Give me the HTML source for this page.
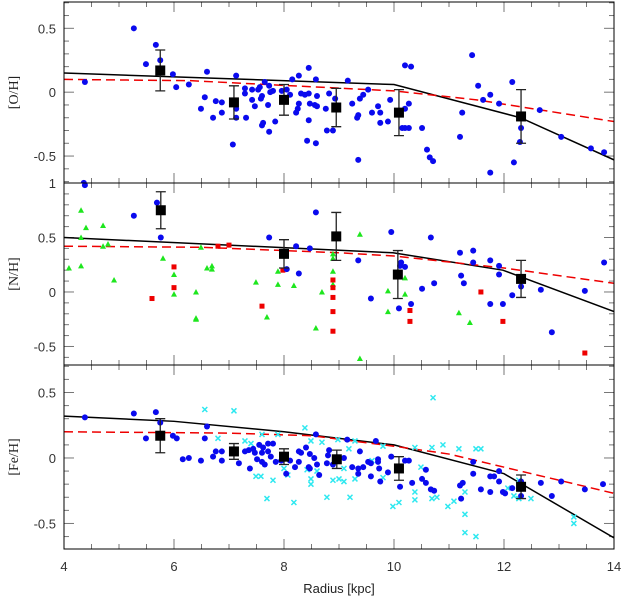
<!DOCTYPE html>
<html><head><meta charset="utf-8"><style>
html,body{margin:0;padding:0;background:#fff;}
svg{display:block;font-family:"Liberation Sans",sans-serif;}
</style></head><body>
<svg id="chart" width="621" height="599" viewBox="0 0 621 599" xmlns="http://www.w3.org/2000/svg"></svg>
<script>
// ---------- DATA ----------
const xTicks = [4,6,8,10,12,14];
const ohBlue = [[5.27,.5],[5.49,.22],[5.67,.37],[5.75,.25],[5.98,.14],[6.04,.04],[6.27,.06],[4.38,.08],[4.36,-.71],[6.6,.16],[7.13,.13],[8.45,.19],[8.27,.13],[8.15,.10],[8.58,.10],[9.16,.09],[10.2,.21],[10.31,.2],[6.56,-.04],[6.49,-.13],[6.71,-.2],[6.76,-.07],[6.87,-.08],[6.87,-.16],[7.29,.03],[7.29,-.01],[7.42,.02],[7.53,.02],[7.56,.04],[7.73,.05],[7.65,.08],[7.8,.01],[7.75,0],[7.6,-.03],[7.58,-.05],[7.42,-.06],[7.47,-.11],[7.71,-.1],[7.31,-.2],[7.13,-.13],[7.13,-.2],[7.62,-.24],[7.6,-.26],[7.73,-.31],[7.84,-.23],[7.07,-.41],[7.96,.01],[8.05,.02],[8.11,-.02],[8.31,-.01],[8.38,-.02],[8.45,-.01],[8.6,-.03],[8.27,-.09],[8.25,-.13],[8.22,-.16],[8.47,-.09],[8.56,-.1],[8.6,-.11],[8.45,-.22],[8.76,-.13],[8.82,-.01],[8.93,-.05],[9.24,-.09],[9.38,-.05],[9.44,-.02],[9.53,.02],[9.35,-.18],[9.33,-.2],[9.6,-.16],[9.71,-.11],[9.75,-.16],[9.75,-.24],[9.89,-.23],[9.93,-.06],[8.78,-.3],[8.89,-.3],[8.42,-.38],[8.58,-.4],[9.35,-.53],[10.27,-.09],[10.2,-.13],[10.15,-.28],[10.27,-.28],[10.2,-.28],[10.51,-.28],[10.6,-.45],[10.65,-.51],[10.71,-.54],[11.2,-.35],[11.24,-.16],[11.42,.29],[11.53,.05],[11.62,-.06],[11.75,-.02],[11.91,-.09],[11.75,-.63],[12.15,.08],[12.18,-.55],[12.29,-.39],[12.31,-.28],[12.65,-.14],[13.04,-.35],[13.58,-.44],[13.82,-.47]];
const ohMeans = [[5.75,.17,.16],[7.09,-.08,.13],[8.0,-.06,.12],[8.95,-.12,.15],[10.09,-.16,.18],[12.31,-.19,.21]];
const ohModel = [[4,.15],[10,.06],[12.3,-.2],[14,-.53]];
const ohModel2 = [[4,.10],[6.3,.09],[10,.01],[11.5,-.06],[14,-.23]];

const nhBlue = [[4.38,.98],[5.69,.82],[5.27,.70],[5.76,.50],[7.73,.50],[8.22,.42],[8.47,.40],[8.58,.73],[8.05,.21],[8.27,.17],[9.95,.55],[9.35,.29],[9.58,-.06],[10.13,.27],[10.11,.24],[10.2,.23],[10.09,-.15],[10.31,-.11],[10.67,.5],[10.51,.03],[10.73,.08],[11.2,.36],[11.44,.38],[11.44,.27],[11.22,.15],[11.27,.08],[11.75,.29],[11.91,.24],[11.91,.16],[11.75,-.11],[11.98,-.11],[12.15,-.03],[12.31,.05],[12.67,.02],[12.87,-.37],[13.47,.01],[13.82,.27]];
const nhGreen = [[4.31,.75],[4.4,.59],[4.71,.61],[4.31,.5],[4.09,.22],[4.31,.24],[4.71,.42],[4.8,.44],[4.91,.11],[5.8,.31],[6.0,.16],[6.0,-.02],[6.4,0],[6.4,-.24],[6.4,-.25],[6.49,.41],[6.6,.22],[6.69,.24],[6.69,.21],[7.49,.09],[7.69,-.23],[7.89,.19],[7.89,.07],[8.18,.06],[8.58,-.33],[8.69,0],[8.89,.35],[8.89,.31],[8.89,.19],[8.89,.07],[9.38,.53],[9.89,.01],[9.89,-.18],[10.2,.13],[10.2,-.02],[9.38,-.61],[11.18,-.19],[11.38,-.28]];
const nhRed = [[6.0,.23],[6.0,.04],[5.6,-.06],[6.8,.42],[7.0,.43],[7.6,-.13],[7.98,.2],[8.89,.11],[8.89,.04],[8.89,-.05],[8.89,-.18],[8.89,-.36],[10.29,-.17],[10.29,-.27],[11.58,0],[11.98,-.27],[13.47,-.56]];
const nhMeans = [[5.76,.75,.17],[8.0,.35,.13],[8.95,.51,.22],[10.07,.16,.22],[12.31,.12,.17]];
const nhModel = [[4,.50],[9.98,.36],[11.98,.2],[14,-.18]];
const nhModel2 = [[4,.42],[6.5,.41],[9,.36],[10,.33],[12,.22],[14,.08]];

const feBlue = [[4.38,.31],[5.27,.34],[5.67,.35],[5.75,.27],[5.49,.15],[5.98,.17],[6.05,.15],[6.16,-.01],[6.27,0],[6.49,-.02],[6.6,.24],[6.56,.15],[6.71,.01],[6.76,.05],[6.87,.05],[6.87,-.02],[7.18,-.04],[7.29,.05],[7.36,.06],[7.44,.07],[7.47,.04],[7.51,-.01],[7.55,.1],[7.62,.08],[7.6,.04],[7.38,-.08],[7.6,-.03],[7.65,-.05],[7.71,.11],[7.8,.11],[7.71,.05],[7.76,.01],[7.85,-.03],[7.95,-.02],[8.04,-.12],[8.11,-.02],[8.2,-.07],[8.27,-.03],[8.27,.05],[8.31,.04],[8.4,.08],[8.47,.03],[8.45,-.07],[8.47,-.08],[8.55,0],[8.58,.18],[8.6,-.05],[8.64,-.13],[8.78,-.04],[8.8,.02],[8.82,.06],[8.89,-.05],[9.09,0],[9.15,.14],[9.24,-.07],[9.35,-.08],[9.35,-.12],[9.44,-.07],[9.38,.05],[9.53,-.03],[9.58,-.04],[9.58,-.14],[9.67,.13],[9.71,-.01],[9.71,-.03],[9.73,-.08],[9.75,-.18],[9.89,-.11],[9.95,.01],[10.11,-.22],[10.2,-.02],[10.27,-.02],[10.33,-.19],[10.51,-.16],[10.58,-.09],[10.58,-.19],[10.67,-.24],[10.73,-.25],[11.44,-.03],[11.44,-.12],[11.2,-.21],[11.25,-.19],[11.22,-.31],[11.58,-.24],[11.75,-.26],[11.75,-.14],[11.82,-.14],[11.91,-.1],[11.91,-.18],[11.98,-.26],[12.02,-.27],[12.15,-.23],[12.31,-.29],[12.31,-.18],[12.67,-.19],[12.87,-.29],[13.04,-.18],[13.47,-.24],[13.8,-.2]];
const feCyan = [[7.09,.36],[6.56,.37],[6.8,.15],[7.29,.13],[7.4,.11],[7.6,.18],[7.89,.18],[8.38,.23],[8.49,.13],[8.69,.12],[8.98,.14],[9.18,.07],[9.29,.13],[9.8,.09],[10.38,.08],[10.69,.08],[10.89,.1],[11.18,.07],[11.49,.07],[11.58,.07],[10.71,.46],[7.49,-.14],[7.58,-.14],[7.8,-.17],[7.69,-.31],[8.0,-.08],[8.07,-.13],[8.18,-.34],[8.42,-.09],[8.49,-.16],[8.49,-.2],[8.6,-.1],[8.78,-.3],[8.89,-.17],[9.0,-.16],[9.09,-.18],[9.09,-.08],[9.2,-.3],[9.29,-.16],[9.6,-.02],[9.8,-.15],[9.98,-.37],[10.09,-.34],[10.38,-.26],[10.38,-.32],[10.49,-.07],[10.69,-.31],[10.78,-.3],[10.98,-.37],[11.09,-.33],[11.29,-.43],[11.29,-.57],[11.49,-.6],[11.29,-.26],[12.07,-.23],[12.18,-.29],[12.27,-.17],[12.27,-.31],[12.49,-.31],[13.27,-.45],[13.27,-.5]];
const feMeans = [[5.75,.17,.13],[7.09,.05,.06],[8.0,.01,.06],[8.96,-.01,.07],[10.09,-.08,.09],[12.31,-.22,.09]];
const feModel = [[4,.32],[6,.28],[8,.2],[10,.10],[12,-.12],[14,-.61]];
const feModel2 = [[4,.2],[7,.19],[8.5,.17],[10,.09],[11,.03],[14,-.27]];

// ---------- LAYOUT ----------
const svg = document.getElementById('chart');
const NS = 'http://www.w3.org/2000/svg';
const X0 = 64, X1 = 614;
const xs = v => X0 + (v - 4) / 10 * (X1 - X0);
function mk(tag, attrs, parent) {
  const e = document.createElementNS(NS, tag);
  for (const k in attrs) e.setAttribute(k, attrs[k]);
  (parent || svg).appendChild(e);
  return e;
}
const panels = [
  {name:'oh', label:'[O/H]', top:2, bot:183, vTop:0.706, vBot:-0.711, ticks:[0.5,0,-0.5], tl:['0.5','0','-0.5'], blue:ohBlue, green:[], red:[], cyan:[], means:ohMeans, m1:ohModel, m2:ohModel2},
  {name:'nh', label:'[N/H]', top:183, bot:365, vTop:1.0, vBot:-0.67, ticks:[1,0.5,0,-0.5], tl:['1','0.5','0','-0.5'], blue:nhBlue, green:nhGreen, red:nhRed, cyan:[], means:nhMeans, m1:nhModel, m2:nhModel2},
  {name:'fe', label:'[Fe/H]', top:365, bot:549, vTop:0.71, vBot:-0.695, ticks:[0.5,0,-0.5], tl:['0.5','0','-0.5'], blue:feBlue, green:[], red:[], cyan:feCyan, means:feMeans, m1:feModel, m2:feModel2}
];

panels.forEach(p => {
  const ys = v => p.top + (p.vTop - v) / (p.vTop - p.vBot) * (p.bot - p.top);
  const g = mk('g', {});
  
  
  const clipId = 'clip-' + p.name;
  const cp = mk('clipPath', {id: clipId}, g);
  mk('rect', {x:X0, y:p.top, width:X1-X0, height:p.bot-p.top}, cp);
  // ticks
  const tg = mk('g', {stroke:'#777', 'stroke-width':1}, g);
  
  
  for (let k = 0; k <= 20; k++) {
    const v = 4 + k * 0.5, x = xs(v);
    const L = (k % 4 === 0) ? 10 : 5;
    mk('line', {x1:x, x2:x, y1:p.bot, y2:p.bot - L}, tg);
    mk('line', {x1:x, x2:x, y1:p.top, y2:p.top + L}, tg);
  }
  for (let v = Math.ceil(p.vBot * 10) / 10; v <= p.vTop + 1e-9; v = Math.round((v + 0.1) * 10) / 10) {
    const y = ys(v);
    const major = Math.abs(v * 2 - Math.round(v * 2)) < 1e-6;
    const L = major ? 10 : 5;
    mk('line', {x1:X0, x2:X0 + L, y1:y, y2:y}, tg);
    mk('line', {x1:X1, x2:X1 - L, y1:y, y2:y}, tg);
  }
  // tick labels
  p.ticks.forEach((v, i) => {
    const t = mk('text', {x:X0 - 8, y:ys(v) + 5, 'text-anchor':'end', 'font-size':13, fill:'#333'}, g);
    
    
    t.textContent = p.tl[i];
  });
  const yl = mk('text', {x:0, y:0, 'text-anchor':'middle', 'font-size':14, fill:'#222', 'font-family':'"Liberation Serif",serif', transform:`translate(18,${(p.top + p.bot) / 2}) rotate(-90)`}, g);
  
  
  yl.textContent = p.label;

  const dg = mk('g', {'clip-path':`url(#${clipId})`}, g);
  // model lines
  const line = (pts, attrs, nm) => {
    const e = mk('polyline', Object.assign({points: pts.map(q => xs(q[0]) + ',' + ys(q[1])).join(' '), fill:'none'}, attrs), dg);
    
    
  };
  line(p.m1, {stroke:'#000', 'stroke-width':1.5}, p.name + '-model-solid');
  line(p.m2, {stroke:'#e00', 'stroke-width':1.5, 'stroke-dasharray':'9,5'}, p.name + '-model-dashed');
  // cyan crosses
  p.cyan.forEach(q => {
    const x = xs(q[0]), y = ys(q[1]);
    const e = mk('path', {d:`M${x-2.5},${y-2.5}L${x+2.5},${y+2.5}M${x-2.5},${y+2.5}L${x+2.5},${y-2.5}`, stroke:'#2ee8f0', 'stroke-width':1.5}, dg);
    
    
  });
  p.green.forEach(q => {
    const x = xs(q[0]), y = ys(q[1]);
    const e = mk('polygon', {points:`${x},${y-3} ${x-3},${y+2.5} ${x+3},${y+2.5}`, fill:'#1ee61e'}, dg);
    
    
  });
  p.red.forEach(q => {
    const x = xs(q[0]), y = ys(q[1]);
    const e = mk('rect', {x:x-2.5, y:y-2.5, width:5, height:5, fill:'#e00'}, dg);
    
    
  });
  p.blue.forEach(q => {
    const e = mk('circle', {cx:xs(q[0]), cy:ys(q[1]), r:3, fill:'#0a0aee'}, dg);
    
    
  });
  p.means.forEach(q => {
    const x = xs(q[0]), y = ys(q[1]), y1 = ys(q[1] + q[2]), y2 = ys(q[1] - q[2]);
    const e = mk('path', {d:`M${x},${y1}V${y2}M${x-5},${y1}H${x+5}M${x-5},${y2}H${x+5}`, stroke:'#222', 'stroke-width':1.3, fill:'none'}, dg);
    
    
    const s = mk('rect', {x:x-5, y:y-5, width:10, height:10, fill:'#000'}, dg);
    
    
  });
  const fr = mk('rect', {x:X0, y:p.top, width:X1-X0, height:p.bot-p.top, fill:'none', stroke:'#000', 'stroke-width':1}, g);
  
  
});

xTicks.forEach(v => {
  const t = mk('text', {x:xs(v), y:571, 'text-anchor':'middle', 'font-size':13, fill:'#333'});
  
  
  t.textContent = String(v);
});
const xt = mk('text', {x:339, y:593, 'text-anchor':'middle', 'font-size':13, fill:'#222'});


xt.textContent = 'Radius [kpc]';
</script>
</body></html>
